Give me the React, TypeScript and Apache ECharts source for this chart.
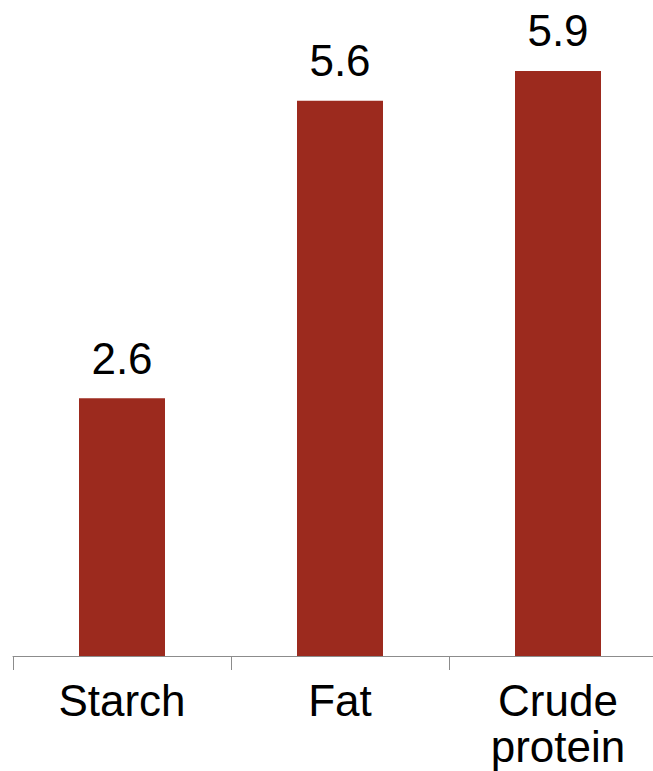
import React, { useEffect, useRef } from "react";
import * as echarts from "echarts";

const categories = ["Starch", "Fat", "Crude\nprotein"];
const values = [2.6, 5.6, 5.9];

export default function App() {
  const ref = useRef<HTMLDivElement>(null);
  useEffect(() => {
    if (!ref.current) return;
    const chart = echarts.init(ref.current, null, { renderer: "svg" });
    chart.setOption({
      animation: false,
      backgroundColor: "#ffffff",
      grid: { left: 13, top: 61, width: 654, height: 595, outerBoundsMode: "none", containLabel: false },
      xAxis: {
        type: "category",
        data: categories,
        axisLine: { lineStyle: { color: "#8c8c8c", width: 1 } },
        axisTick: { show: true, length: 14, lineStyle: { color: "#8c8c8c" } },
        axisLabel: {
          interval: 0,
          fontFamily: "Liberation Sans, Arial, sans-serif",
          fontSize: 44,
          lineHeight: 46,
          color: "#000",
          margin: 21,
        },
      },
      yAxis: { type: "value", min: 0, max: 6, show: false, splitLine: { show: false } },
      series: [
        {
          type: "bar",
          data: values,
          barWidth: 86,
          itemStyle: { color: "#9c2a1e" },
          label: {
            show: true,
            position: "top",
            distance: 18,
            fontFamily: "Liberation Sans, Arial, sans-serif",
            fontSize: 44,
            color: "#000",
            formatter: (p: any) => p.value.toFixed(1),
          },
        },
      ],
    });
    return () => chart.dispose();
  }, []);
  return <div ref={ref} style={{ position: "fixed", left: 0, top: 0, width: 653, height: 771 }} />;
}
